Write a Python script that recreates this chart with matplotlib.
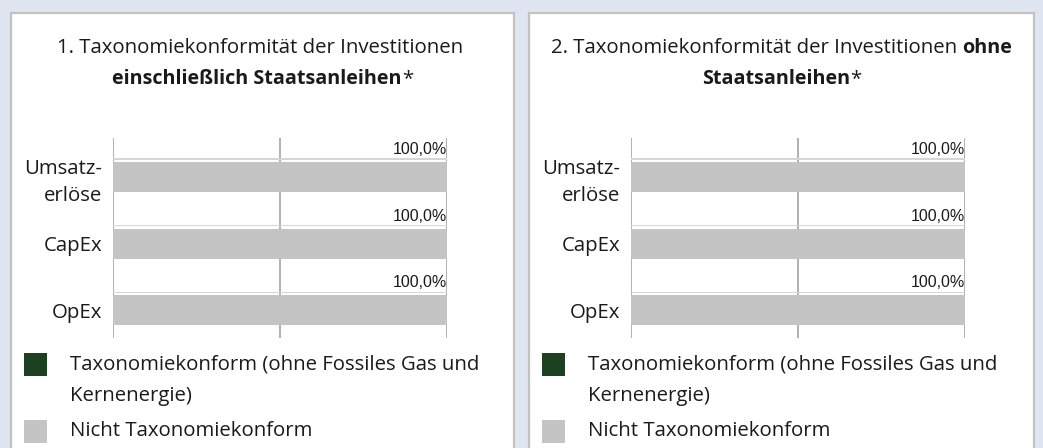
import matplotlib.pyplot as plt
from matplotlib.patches import Rectangle

W, H = 1043, 448

categories = ["Umsatz-\nerlöse", "CapEx", "OpEx"]
aligned_incl = [0.0, 0.0, 0.0]
not_aligned_incl = [100.0, 100.0, 100.0]
aligned_excl = [0.0, 0.0, 0.0]
not_aligned_excl = [100.0, 100.0, 100.0]
legend_labels = ["Taxonomiekonform (ohne Fossiles Gas und\nKernenergie)", "Nicht Taxonomiekonform"]
titles = [
    [[("1. Taxonomiekonformität der Investitionen ", "normal")],
     [("einschließlich Staatsanleihen", "bold"), ("*", "normal")]],
    [[("2. Taxonomiekonformität der Investitionen ", "normal"), ("ohne", "bold")],
     [("Staatsanleihen", "bold"), ("*", "normal")]],
]

GREEN = "#1b4120"
GRAY = "#c4c4c4"
FONT = "Open Sans"
TXT = "#1a1a1a"
FS = 14.7

fig = plt.figure(figsize=(W / 100, H / 100), dpi=100, facecolor="#dfe6f1")
renderer = fig.canvas.get_renderer()


def px(x, y):
    return x / W, 1 - y / H


def mixed_line(cx, cy, parts, size=FS):
    arts = []
    for text, weight in parts:
        sz = size if weight == "normal" else size * 0.97
        t = fig.text(0, 0, text, fontsize=sz, fontweight=weight, family=FONT,
                     color=TXT, va="center", ha="left")
        arts.append(t)
    widths = [a.get_window_extent(renderer).width for a in arts]
    total = sum(widths)
    x = cx - total / 2
    for a, w in zip(arts, widths):
        a.set_position(((x) / W, 1 - cy / H))
        x += w


def panel(x0, x1, ax_left, aligned, not_aligned, title_lines):
    fig.patches.append(Rectangle(px(x0, H + 20), (x1 - x0) / W, (H + 20 - 13) / H,
                                 transform=fig.transFigure, facecolor="white",
                                 edgecolor="#c2c2c2", linewidth=1.6, zorder=-5))
    cx = (x0 + x1) / 2
    mixed_line(cx, 48, title_lines[0])
    mixed_line(cx, 79, title_lines[1])

    ax = fig.add_axes([ax_left / W, 110 / H, 334 / W, 200 / H])
    ax.set_facecolor("none")
    y = list(range(len(categories)))
    ax.barh(y, aligned, height=0.45, color=GREEN, zorder=3)
    ax.barh(y, not_aligned, left=aligned, height=0.45, color=GRAY, zorder=3)
    # thin light line sitting on top of each bar
    ax.barh([v - 0.27 for v in y], not_aligned, left=aligned, height=0.02,
            color="#d6d6d6", zorder=3)
    for i, (a, n) in enumerate(zip(aligned, not_aligned)):
        ax.text(a + n, i - 0.30, f"{n:.1f}%".replace(".", ","), ha="right", va="bottom",
                fontsize=11.5, family="Liberation Sans", color=TXT, zorder=4)
    ax.set_xlim(0, 100)
    ax.set_ylim(2.415, -0.585)
    ax.set_xticks([0, 50, 100])
    ax.set_xticklabels([])
    ax.tick_params(axis="x", length=0)
    ax.grid(axis="x", color="#b0b0b0", linewidth=1.4, zorder=0)
    ax.set_axisbelow(True)
    ax.set_yticks(y)
    ax.set_yticklabels(categories, fontsize=FS, family=FONT, color=TXT,
                       multialignment="right", linespacing=1.45)
    ax.tick_params(axis="y", length=0, pad=8)
    for s in ax.spines.values():
        s.set_visible(False)

    # legend
    colors = [GREEN, GRAY]
    sw_y = [353, 420]
    for c, sy in zip(colors, sw_y):
        fig.patches.append(Rectangle(px(x0 + 13, sy + 23), 23 / W, 23 / H,
                                     transform=fig.transFigure, facecolor=c,
                                     edgecolor="none", zorder=2))
    fig.text(*px(x0 + 59, 380), legend_labels[0], fontsize=FS, family=FONT, color=TXT,
             va="center", ha="left", linespacing=1.74)
    fig.text(*px(x0 + 59, 431), legend_labels[1], fontsize=FS, family=FONT, color=TXT,
             va="center", ha="left")


panel(11, 514, 113, aligned_incl, not_aligned_incl, titles[0])
panel(529, 1034, 631, aligned_excl, not_aligned_excl, titles[1])

fig.savefig("out.png", dpi=100, facecolor=fig.get_facecolor())
